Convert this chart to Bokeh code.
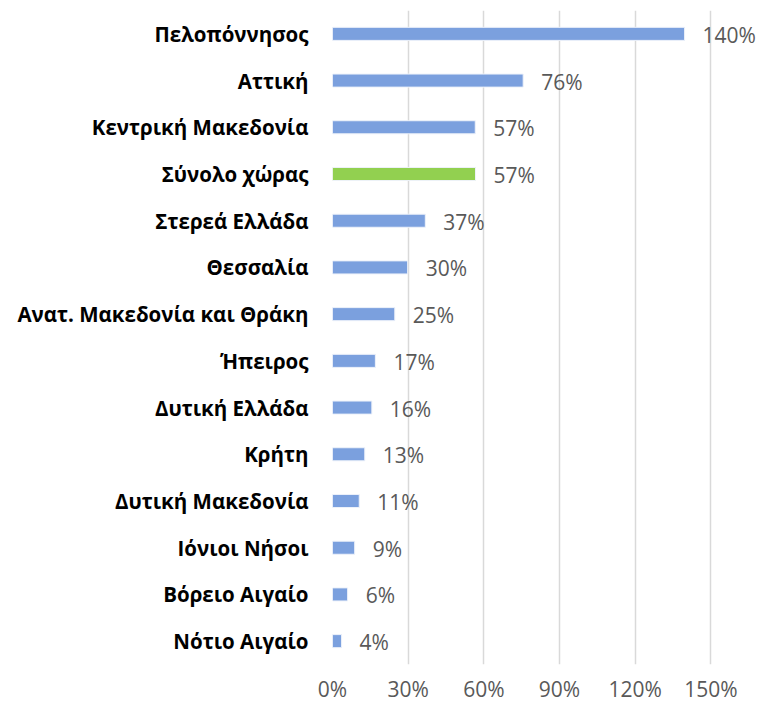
from bokeh.plotting import figure
from bokeh.models import ColumnDataSource, FixedTicker, Range1d
from bokeh.core.properties import value
from bokeh.embed import file_html
from bokeh.resources import INLINE

regions = ["Πελοπόννησος", "Αττική", "Κεντρική Μακεδονία", "Σύνολο χώρας",
           "Στερεά Ελλάδα", "Θεσσαλία", "Ανατ. Μακεδονία και Θράκη", "Ήπειρος",
           "Δυτική Ελλάδα", "Κρήτη", "Δυτική Μακεδονία", "Ιόνιοι Νήσοι",
           "Βόρειο Αιγαίο", "Νότιο Αιγαίο"]
values = [139.6, 75.6, 56.6, 56.7, 36.8, 29.8, 24.7, 17.0, 15.6, 12.8, 10.6, 8.8, 6.0, 3.6]
highlight = "Σύνολο χώρας"
x_ticks = [0, 30, 60, 90, 120, 150]

colors = ["#92D050" if r == highlight else "#7BA0DE" for r in regions]
labels = [f"{round(v)}%" for v in values]

src = ColumnDataSource(dict(region=regions, val=values, color=colors, label=labels))

p = figure(y_range=list(reversed(regions)), x_range=Range1d(0, 168.9),
           width=758, height=705, output_backend="svg", toolbar_location=None,
           min_border_left=332, min_border_right=0, min_border_top=10, min_border_bottom=30)

p.hbar(y="region", right="val", height=0.28, left=0, color="color",
       line_color="#EEF2FA", line_width=1, source=src)
p.text(x="val", y="region", text="label", source=src, x_offset=18, y_offset=1,
       text_baseline="middle", text_align="left", text_color="#595959",
       text_font=value("Open Sans"), text_font_size="21px")

p.outline_line_color = None
p.ygrid.grid_line_color = None
p.xgrid.grid_line_color = "#D9D9D9"
p.xgrid.grid_line_width = 1.5
p.xaxis.ticker = FixedTicker(ticks=x_ticks)
p.xaxis.major_label_overrides = {t: f"{t}%" for t in x_ticks}
p.xaxis.axis_line_color = None
p.xaxis.major_tick_line_color = None
p.xaxis.major_tick_out = 0
p.xaxis.major_tick_in = 0
p.xaxis.minor_tick_line_color = None
p.xaxis.major_label_text_color = "#595959"
p.xaxis.major_label_text_font = "Open Sans"
p.xaxis.major_label_text_font_size = "21px"
p.xaxis.major_label_standoff = 10

p.yaxis.axis_line_color = None
p.yaxis.major_tick_line_color = None
p.yaxis.major_tick_out = 0
p.yaxis.major_tick_in = 0
p.yaxis.minor_tick_line_color = None
p.yaxis.major_label_text_color = "#000000"
p.yaxis.major_label_text_font = "Open Sans"
p.yaxis.major_label_text_font_style = "bold"
p.yaxis.major_label_text_font_size = "20.5px"
p.yaxis.major_label_standoff = 24

open("out.html", "w").write(file_html(p, INLINE))
